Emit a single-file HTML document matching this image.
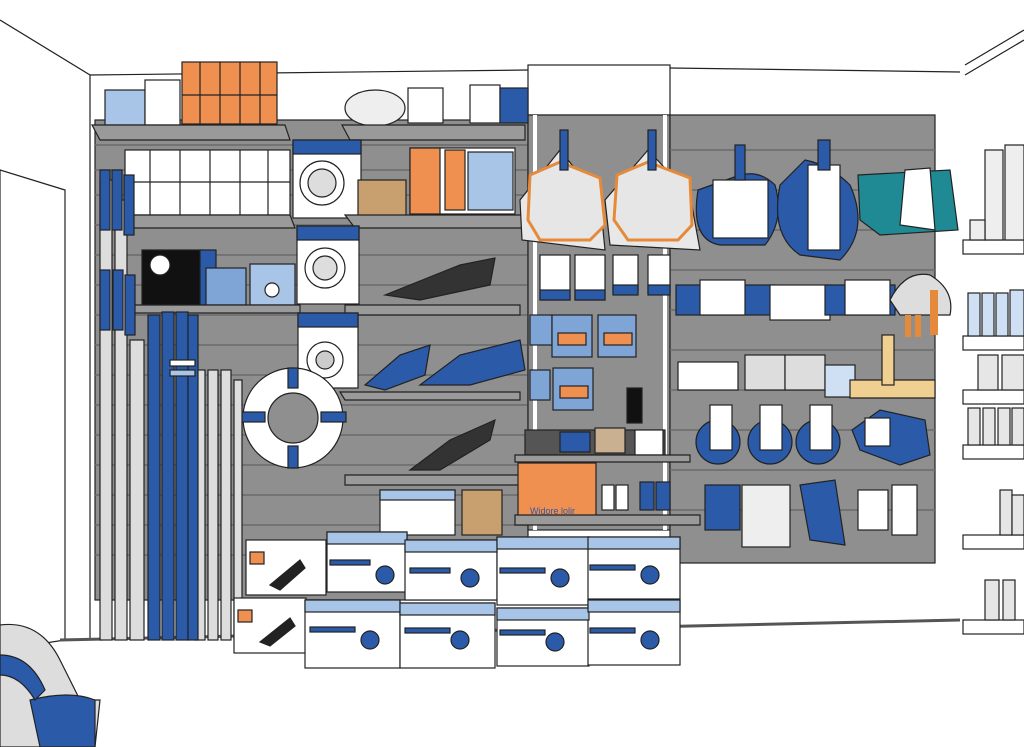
<!DOCTYPE html>
<html><head><style>html,body{margin:0;padding:0;background:#fff}svg{display:block}</style></head>
<body>
<svg width="1024" height="747" viewBox="0 0 1024 747" xmlns="http://www.w3.org/2000/svg" stroke="#222" stroke-width="1.2">
<rect x="0" y="0" width="1024" height="747" fill="#fff" stroke="none"/>
<!-- walls / ceiling -->
<polyline points="0,20 90,75 90,640" fill="none"/>
<line x1="90" y1="75" x2="528" y2="70"/>
<line x1="670" y1="68" x2="960" y2="72"/>
<polyline points="965,75 1024,40" fill="none"/>
<line x1="965" y1="65" x2="1024" y2="30"/>
<polygon points="0,170 65,190 65,640 0,650" fill="#fff"/>
<line x1="60" y1="640" x2="960" y2="620" stroke="#555" stroke-width="3"/>
<!-- slatwall left -->
<rect x="95" y="120" width="433" height="480" fill="#8f8f8f"/>
<g stroke="#6a6a6a" stroke-width="1.5">
<line x1="95" y1="145" x2="528" y2="145"/><line x1="95" y1="170" x2="528" y2="170"/><line x1="95" y1="195" x2="528" y2="195"/><line x1="95" y1="225" x2="528" y2="225"/><line x1="95" y1="255" x2="528" y2="255"/><line x1="95" y1="285" x2="528" y2="285"/><line x1="95" y1="315" x2="528" y2="315"/><line x1="95" y1="345" x2="528" y2="345"/><line x1="95" y1="375" x2="528" y2="375"/><line x1="95" y1="405" x2="528" y2="405"/><line x1="95" y1="435" x2="528" y2="435"/><line x1="95" y1="465" x2="528" y2="465"/><line x1="95" y1="495" x2="528" y2="495"/><line x1="95" y1="525" x2="528" y2="525"/><line x1="95" y1="555" x2="528" y2="555"/>
</g>
<!-- center column -->
<rect x="528" y="65" width="142" height="50" fill="#fff"/>
<rect x="528" y="115" width="142" height="415" fill="#8f8f8f"/>
<line x1="535" y1="115" x2="535" y2="530" stroke="#fff" stroke-width="4"/>
<line x1="665" y1="115" x2="665" y2="530" stroke="#fff" stroke-width="4"/>
<!-- right panel -->
<rect x="670" y="115" width="265" height="448" fill="#8f8f8f"/>
<g stroke="#6a6a6a" stroke-width="1.5">
<line x1="670" y1="150" x2="935" y2="150"/><line x1="670" y1="190" x2="935" y2="190"/><line x1="670" y1="230" x2="935" y2="230"/><line x1="670" y1="270" x2="935" y2="270"/><line x1="670" y1="310" x2="935" y2="310"/><line x1="670" y1="350" x2="935" y2="350"/><line x1="670" y1="390" x2="935" y2="390"/><line x1="670" y1="430" x2="935" y2="430"/><line x1="670" y1="470" x2="935" y2="470"/><line x1="670" y1="510" x2="935" y2="510"/>
</g>
<!-- top left shelf items -->
<rect x="105" y="90" width="40" height="35" fill="#a8c4e6"/><rect x="145" y="80" width="35" height="45" fill="#fff"/>
<rect x="182" y="62" width="95" height="62" fill="#f09050"/>
<g stroke="#222"><line x1="200" y1="62" x2="200" y2="124"/><line x1="220" y1="62" x2="220" y2="124"/><line x1="240" y1="62" x2="240" y2="124"/><line x1="260" y1="62" x2="260" y2="124"/><line x1="182" y1="95" x2="277" y2="95"/></g>
<polygon points="92,125 285,125 290,140 100,140" fill="#9a9a9a"/>
<ellipse cx="375" cy="108" rx="30" ry="18" fill="#eee"/><rect x="408" y="88" width="35" height="35" fill="#fff"/><rect x="470" y="85" width="30" height="38" fill="#fff"/><rect x="500" y="88" width="28" height="35" fill="#2a5aa8"/>
<polygon points="342,125 525,125 525,140 350,140" fill="#9a9a9a"/>
<!-- second shelf -->
<rect x="125" y="150" width="165" height="65" fill="#fff"/>
<g><line x1="150" y1="150" x2="150" y2="215"/><line x1="180" y1="150" x2="180" y2="215"/><line x1="210" y1="150" x2="210" y2="215"/><line x1="240" y1="150" x2="240" y2="215"/><line x1="268" y1="150" x2="268" y2="215"/><line x1="125" y1="182" x2="290" y2="182"/></g>
<polygon points="105,215 290,215 295,228 110,228" fill="#9a9a9a"/>
<rect x="293" y="140" width="68" height="78" fill="#fff"/><rect x="293" y="140" width="68" height="14" fill="#2a5aa8"/><circle cx="322" cy="183" r="22" fill="#fff"/><circle cx="322" cy="183" r="14" fill="#ddd"/>
<rect x="358" y="180" width="48" height="36" fill="#c8a070"/>
<rect x="410" y="148" width="105" height="66" fill="#fff"/><rect x="410" y="148" width="30" height="66" fill="#f09050"/><rect x="445" y="150" width="20" height="60" fill="#f09050"/><rect x="468" y="152" width="45" height="58" fill="#a8c4e6"/>
<polygon points="345,215 525,215 525,228 355,228" fill="#9a9a9a"/>
<!-- third shelf -->
<rect x="142" y="250" width="60" height="55" fill="#111"/><circle cx="160" cy="265" r="10" fill="#fff"/><rect x="200" y="250" width="16" height="55" fill="#2a5aa8"/>
<rect x="206" y="268" width="40" height="37" fill="#7fa5d6"/><rect x="250" y="264" width="45" height="41" fill="#a8c4e6"/><circle cx="272" cy="290" r="7" fill="#fff"/>
<rect x="297" y="226" width="62" height="78" fill="#fff"/><rect x="297" y="226" width="62" height="14" fill="#2a5aa8"/><circle cx="325" cy="268" r="20" fill="#fff"/><circle cx="325" cy="268" r="12" fill="#ddd"/>
<polygon points="120,305 300,305 300,313 125,313" fill="#9a9a9a"/>
<polygon points="385,295 460,265 495,258 490,285 420,300" fill="#333"/>
<polygon points="345,305 520,305 520,315 345,315" fill="#9a9a9a"/>
<!-- drain box -->
<rect x="298" y="313" width="60" height="75" fill="#fff"/><rect x="298" y="313" width="60" height="14" fill="#2a5aa8"/><circle cx="325" cy="360" r="18" fill="#fff"/><circle cx="325" cy="360" r="9" fill="#ccc"/>
<!-- vacuums blue -->
<polygon points="365,385 400,355 430,345 425,375 385,390" fill="#2a5aa8"/>
<polygon points="420,385 460,355 520,340 525,370 470,385" fill="#2a5aa8"/>
<polygon points="340,392 520,392 520,400 345,400" fill="#9a9a9a"/>
<!-- lifebuoy -->
<circle cx="293" cy="418" r="50" fill="#fff"/><circle cx="293" cy="418" r="25" fill="#8f8f8f"/>
<rect x="240" y="412" width="25" height="10" fill="#2a5aa8"/><rect x="321" y="412" width="25" height="10" fill="#2a5aa8"/><rect x="288" y="368" width="10" height="20" fill="#2a5aa8"/><rect x="288" y="446" width="10" height="22" fill="#2a5aa8"/>
<!-- black vacuum -->
<polygon points="410,470 450,440 495,420 490,440 440,470" fill="#333"/>
<polygon points="345,475 520,475 520,485 345,485" fill="#9a9a9a"/>
<!-- poles -->
<g fill="#ddd"><rect x="100" y="180" width="12" height="460"/><rect x="115" y="200" width="12" height="440"/><rect x="130" y="340" width="14" height="300"/><rect x="195" y="370" width="10" height="270"/><rect x="208" y="370" width="10" height="270"/><rect x="221" y="370" width="10" height="270"/><rect x="234" y="380" width="8" height="260"/></g>
<g fill="#2a5aa8"><rect x="100" y="170" width="10" height="60"/><rect x="112" y="170" width="10" height="60"/><rect x="124" y="175" width="10" height="60"/><rect x="100" y="270" width="10" height="60"/><rect x="113" y="270" width="10" height="60"/><rect x="125" y="275" width="10" height="60"/><rect x="148" y="315" width="12" height="325"/><rect x="162" y="312" width="12" height="328"/><rect x="176" y="312" width="12" height="328"/><rect x="188" y="315" width="10" height="325"/></g>
<rect x="170" y="360" width="25" height="6" fill="#fff"/><rect x="170" y="370" width="25" height="6" fill="#a8c4e6"/>
<!-- center column items -->
<path d="M522,240 L520,200 L560,150 L600,200 L605,250 Z" fill="#e8e8e8"/><polygon points="530,175 560,162 600,178 605,225 590,240 540,240 528,220" fill="#e6e6e6" stroke="#e58a3a" stroke-width="3"/>
<path d="M610,245 L605,200 L648,150 L690,195 L700,250 Z" fill="#e8e8e8"/><polygon points="617,175 648,162 690,178 692,225 678,240 628,240 614,220" fill="#e6e6e6" stroke="#e58a3a" stroke-width="3"/>
<rect x="560" y="130" width="8" height="40" fill="#2a5aa8"/><rect x="648" y="130" width="8" height="40" fill="#2a5aa8"/>
<g fill="#fff"><rect x="540" y="255" width="30" height="45"/><rect x="575" y="255" width="30" height="45"/><rect x="613" y="255" width="25" height="38"/><rect x="648" y="255" width="22" height="38"/></g>
<g fill="#2a5aa8"><rect x="540" y="290" width="30" height="10"/><rect x="575" y="290" width="30" height="10"/><rect x="613" y="285" width="25" height="10"/><rect x="648" y="285" width="22" height="10"/></g>
<g fill="#7fa5d6"><rect x="530" y="315" width="22" height="30"/><rect x="552" y="315" width="40" height="42"/><rect x="598" y="315" width="38" height="42"/><rect x="553" y="368" width="40" height="42"/><rect x="530" y="370" width="20" height="30"/></g>
<g fill="#f09050"><rect x="558" y="333" width="28" height="12"/><rect x="604" y="333" width="28" height="12"/><rect x="560" y="386" width="28" height="12"/></g>
<rect x="627" y="388" width="15" height="35" fill="#111"/>
<rect x="525" y="430" width="140" height="25" fill="#555"/><rect x="560" y="432" width="30" height="20" fill="#2a5aa8"/><rect x="595" y="428" width="30" height="25" fill="#c8b090"/><rect x="635" y="430" width="28" height="25" fill="#fff"/>
<polygon points="515,455 690,455 690,462 515,462" fill="#9a9a9a"/>
<rect x="518" y="463" width="78" height="55" fill="#f09050"/><text x="530" y="514" font-family="Liberation Sans,sans-serif" font-size="9" fill="#2a5aa8" stroke="none">Widore lolir</text>
<g fill="#fff"><rect x="602" y="485" width="12" height="25"/><rect x="616" y="485" width="12" height="25"/></g><g fill="#2a5aa8"><rect x="640" y="482" width="14" height="28"/><rect x="656" y="482" width="14" height="28"/></g>
<polygon points="515,515 700,515 700,525 515,525" fill="#9a9a9a"/>
<!-- right panel items -->
<path d="M698,190 Q690,240 720,245 L765,245 Q785,220 775,185 Q760,170 740,175 Z" fill="#2a5aa8"/><rect x="713" y="180" width="55" height="58" fill="#fff"/>
<path d="M780,185 Q770,235 800,255 L840,260 Q870,230 850,185 Q830,165 805,160 Z" fill="#2a5aa8"/><rect x="808" y="165" width="32" height="85" fill="#fff"/>
<path d="M858,175 L950,170 L958,230 L880,235 L860,220 Z" fill="#1f8a94"/><polygon points="905,170 930,168 935,230 900,225" fill="#fff"/>
<rect x="735" y="145" width="10" height="35" fill="#2a5aa8"/><rect x="818" y="140" width="12" height="30" fill="#2a5aa8"/>
<rect x="676" y="285" width="100" height="30" fill="#2a5aa8"/><rect x="700" y="280" width="45" height="35" fill="#fff"/>
<rect x="770" y="285" width="60" height="35" fill="#fff"/><rect x="825" y="285" width="70" height="30" fill="#2a5aa8"/><rect x="845" y="280" width="45" height="35" fill="#fff"/>
<path d="M890,300 Q905,270 930,275 Q955,290 950,315 L900,315 Z" fill="#ddd"/>
<g fill="#e58a3a" stroke="none"><rect x="905" y="315" width="6" height="22"/><rect x="915" y="315" width="6" height="22"/><rect x="930" y="290" width="8" height="45"/></g>
<rect x="678" y="362" width="60" height="28" fill="#fff"/>
<rect x="745" y="355" width="40" height="35" fill="#ddd"/><rect x="785" y="355" width="40" height="35" fill="#ddd"/><rect x="825" y="365" width="30" height="32" fill="#cfe0f5"/>
<polygon points="850,380 935,380 935,398 850,398" fill="#f0d090"/><rect x="882" y="335" width="12" height="50" fill="#f0d090"/>
<g fill="#2a5aa8"><circle cx="718" cy="442" r="22"/><circle cx="770" cy="442" r="22"/><circle cx="818" cy="442" r="22"/></g>
<g fill="#fff"><rect x="710" y="405" width="22" height="45"/><rect x="760" y="405" width="22" height="45"/><rect x="810" y="405" width="22" height="45"/></g>
<path d="M852,430 L880,410 L925,420 L930,455 L900,465 L860,450 Z" fill="#2a5aa8"/><rect x="865" y="418" width="25" height="28" fill="#fff"/>
<rect x="705" y="485" width="35" height="45" fill="#2a5aa8"/><rect x="742" y="485" width="48" height="62" fill="#eee"/>
<path d="M800,485 L835,480 L845,545 L810,540 Z" fill="#2a5aa8"/><rect x="858" y="490" width="30" height="40" fill="#fff"/><rect x="892" y="485" width="25" height="50" fill="#fff"/>
<!-- right shelving -->
<g fill="#fff"><rect x="963" y="240" width="61" height="14"/><rect x="963" y="336" width="61" height="14"/><rect x="963" y="390" width="61" height="14"/><rect x="963" y="445" width="61" height="14"/><rect x="963" y="535" width="61" height="14"/><rect x="963" y="620" width="61" height="14"/></g>
<g fill="#eee"><rect x="985" y="150" width="18" height="90"/><rect x="1005" y="145" width="19" height="95"/><rect x="970" y="220" width="15" height="20"/></g>
<g fill="#cfe0f5"><rect x="968" y="293" width="12" height="43"/><rect x="982" y="293" width="12" height="43"/><rect x="996" y="293" width="12" height="43"/><rect x="1010" y="290" width="14" height="46"/></g>
<g fill="#e6e6e6"><rect x="978" y="355" width="20" height="35"/><rect x="1002" y="355" width="22" height="35"/><rect x="968" y="408" width="12" height="37"/><rect x="983" y="408" width="12" height="37"/><rect x="998" y="408" width="12" height="37"/><rect x="1012" y="408" width="12" height="37"/><rect x="1000" y="490" width="12" height="45"/><rect x="1012" y="495" width="12" height="40"/><rect x="985" y="580" width="14" height="40"/><rect x="1003" y="580" width="12" height="40"/></g>
<!-- floor boxes -->
<g fill="#fff">
<rect x="380" y="490" width="75" height="45"/>
<rect x="246" y="540" width="80" height="55"/><rect x="234" y="598" width="72" height="55"/>
<rect x="327" y="532" width="80" height="60"/><rect x="305" y="600" width="95" height="68"/>
<rect x="405" y="540" width="92" height="60"/><rect x="400" y="603" width="95" height="65"/>
<rect x="497" y="537" width="92" height="68"/><rect x="497" y="608" width="92" height="58"/>
<rect x="588" y="537" width="92" height="62"/><rect x="588" y="600" width="92" height="65"/>
</g>
<g fill="#a8c4e6"><rect x="380" y="490" width="75" height="10"/><rect x="327" y="532" width="80" height="12"/><rect x="305" y="600" width="95" height="12"/><rect x="405" y="540" width="92" height="12"/><rect x="400" y="603" width="95" height="12"/><rect x="497" y="537" width="92" height="12"/><rect x="497" y="608" width="92" height="12"/><rect x="588" y="537" width="92" height="12"/><rect x="588" y="600" width="92" height="12"/></g>
<g fill="#2a5aa8"><rect x="330" y="560" width="40" height="5"/><rect x="410" y="568" width="40" height="5"/><rect x="500" y="568" width="45" height="5"/><rect x="590" y="565" width="45" height="5"/><rect x="310" y="627" width="45" height="5"/><rect x="405" y="628" width="45" height="5"/><rect x="500" y="630" width="45" height="5"/><rect x="590" y="628" width="45" height="5"/>
<circle cx="385" cy="575" r="9"/><circle cx="470" cy="578" r="9"/><circle cx="560" cy="578" r="9"/><circle cx="650" cy="575" r="9"/><circle cx="370" cy="640" r="9"/><circle cx="460" cy="640" r="9"/><circle cx="555" cy="642" r="9"/><circle cx="650" cy="640" r="9"/></g>
<rect x="250" y="552" width="14" height="12" fill="#f09050"/><rect x="238" y="610" width="14" height="12" fill="#f09050"/>
<polygon points="270,585 300,560 305,568 280,590" fill="#222"/><polygon points="260,642 290,618 295,626 270,646" fill="#222"/>
<rect x="462" y="490" width="40" height="45" fill="#c8a070"/>
<!-- bottom-left chair -->
<path d="M0,625 Q40,620 60,660 L80,700 L100,700 L95,747 L0,747 Z" fill="#ddd"/>
<path d="M30,700 Q70,690 95,700 L95,747 L40,747 Z" fill="#2a5aa8"/>
<path d="M0,655 Q30,655 45,690 L35,700 Q20,675 0,675 Z" fill="#2a5aa8"/>
</svg>
</body></html>
